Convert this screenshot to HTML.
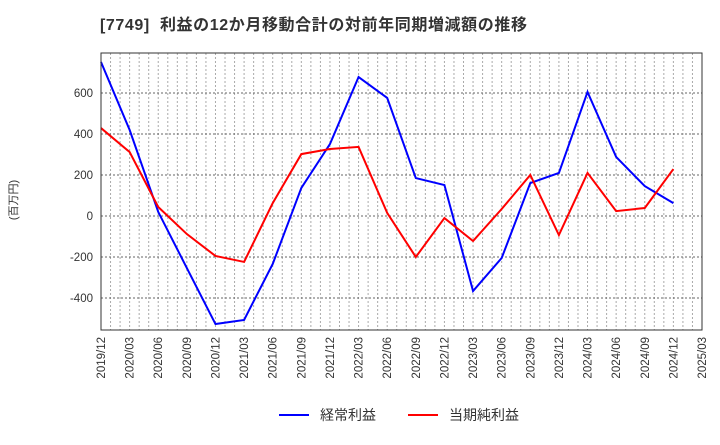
<!DOCTYPE html>
<html><head><meta charset="utf-8"><style>
body{margin:0;background:#fff;font-family:"Liberation Sans","Noto Sans CJK JP",sans-serif}
</style></head><body>
<svg width="720" height="440" xmlns="http://www.w3.org/2000/svg">
<text x="100" y="30" font-size="16" font-weight="bold" fill="#333" letter-spacing="0.6" font-family="Liberation Sans,Noto Sans CJK JP,sans-serif" xml:space="preserve">[7749]  利益の12か月移動合計の対前年同期増減額の推移</text>
<text transform="translate(17,200) rotate(-90)" text-anchor="middle" font-size="11" fill="#333" font-family="Liberation Sans,Noto Sans CJK JP,sans-serif">(百万円)</text>
<g id="grid"></g><g id="axes"></g><g id="series"></g>
<rect x="101" y="53" width="601" height="277" fill="none" stroke="#333" stroke-width="1"/>
<g>
<line x1="279" y1="415" x2="309" y2="415" stroke="#0000ff" stroke-width="2"/>
<text x="320" y="420" font-size="14" fill="#333" font-family="Liberation Sans,Noto Sans CJK JP,sans-serif">経常利益</text>
<line x1="408" y1="415" x2="438" y2="415" stroke="#ff0000" stroke-width="2"/>
<text x="449" y="420" font-size="14" fill="#333" font-family="Liberation Sans,Noto Sans CJK JP,sans-serif">当期純利益</text>
</g>
</svg>
<script>
const categories=["2019/12","2020/03","2020/06","2020/09","2020/12","2021/03","2021/06","2021/09","2021/12","2022/03","2022/06","2022/09","2022/12","2023/03","2023/06","2023/09","2023/12","2024/03","2024/06","2024/09","2024/12","2025/03"];
const ordinaryProfit=[751,420,20,-254,-527,-507,-234,137,351,678,576,185,151,-366,-205,161,210,605,288,146,63];
const netProfit=[429,312,44,-88,-195,-224,63,302,327,337,15,-200,-10,-122,34,200,-93,210,24,39,229];
const yTicks=[-400,-200,0,200,400,600];
const NS="http://www.w3.org/2000/svg";
const L=101,R=702,T=53,B=330;
const x=i=>L+(R-L)*i/(categories.length-1);
const y=v=>216-(v/200)*41;
function mk(tag,attrs,parent){const e=document.createElementNS(NS,tag);for(const k in attrs)e.setAttribute(k,attrs[k]);parent.appendChild(e);return e;}
const grid=document.getElementById('grid'),axes=document.getElementById('axes'),series=document.getElementById('series');
for(let m=1;m<(categories.length-1)*3;m++){const xx=L+(R-L)*m/((categories.length-1)*3);
const g=mk('line',{x1:xx,x2:xx,y1:T,y2:B,stroke:'#aaa','stroke-dasharray':'2,2','stroke-width':1},grid);

}
yTicks.forEach(v=>{const g=mk('line',{x1:L,x2:R,y1:y(v),y2:y(v),stroke:'#666','stroke-dasharray':'2,2','stroke-width':1},grid);


const t=mk('text',{x:L-8,y:y(v)+4,'text-anchor':'end','font-size':11.5,fill:'#333'},axes);t.textContent=v;

});
categories.forEach((c,i)=>{const t=mk('text',{transform:`translate(${x(i)+4},${B+7}) rotate(-90)`,'text-anchor':'end','font-size':11.5,fill:'#333'},axes);t.textContent=c;

});
function line(vals,color,name){const p=mk('polyline',{points:vals.map((v,i)=>x(i)+','+y(v)).join(' '),fill:'none',stroke:color,'stroke-width':2},series);

}
line(ordinaryProfit,'#0000ff','ordinary-profit-line');
line(netProfit,'#ff0000','net-profit-line');
</script>
</body></html>
